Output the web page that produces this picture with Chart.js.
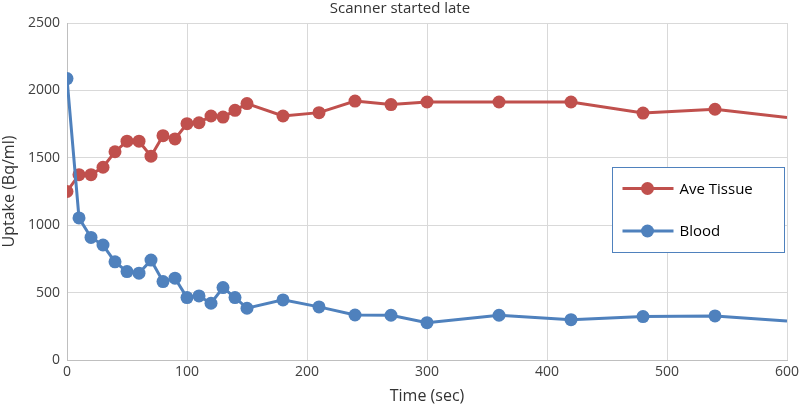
<!DOCTYPE html>
<html>
<head>
<meta charset="utf-8">
<script src="https://cdn.jsdelivr.net/npm/chart.js@4"></script>
<style>
    html, body { margin: 0; padding: 0; background: #fff; }
    #wrap { width: 800px; height: 406px; }
</style>
</head>
<body>
<div id="wrap"><canvas id="chart"></canvas></div>
<script>
// data
const times = [0, 10, 20, 30, 40, 50, 60, 70, 80, 90, 100, 110, 120, 130, 140, 150, 180, 210, 240, 270, 300, 360, 420, 480, 540, 600];
const tissue = [1250, 1375, 1375, 1430, 1545, 1623, 1623, 1512, 1664, 1640, 1753, 1760, 1810, 1802, 1852, 1902, 1810, 1835, 1921, 1895, 1914, 1914, 1914, 1832, 1860, 1798];
const blood = [2088, 1054, 909, 853, 728, 656, 644, 741, 582, 607, 463, 475, 421, 537, 463, 384, 446, 394, 334, 332, 277, 332, 299, 322, 327, 289];
const xTicks = [0, 100, 200, 300, 400, 500, 600];
const yTicks = [0, 500, 1000, 1500, 2000, 2500];
const seriesNames = ['Ave Tissue', 'Blood'];

const RED = '#C0504D';
const BLUE = '#4F81BD';
const FONT = '"Open Sans", "Noto Sans", sans-serif';

function toPoints(vals) {
    return times.map((t, i) => ({ x: t, y: vals[i] }));
}

// legend box drawn inside the plot, like the Excel one
const boxLegend = {
    id: 'boxLegend',
    afterDraw(chart) {
        const ctx = chart.ctx;
        const x = 612.5, y = 167.5, w = 172, h = 85;
        ctx.save();
        ctx.fillStyle = '#fff';
        ctx.fillRect(x, y, w, h);
        ctx.strokeStyle = BLUE;
        ctx.lineWidth = 1;
        ctx.strokeRect(x, y, w, h);
        const rows = [0, 1];
        rows.forEach((idx, i) => {
            const ds = chart.data.datasets[idx];
            const cy = y + 21 + i * 42.5;
            ctx.strokeStyle = ds.borderColor;
            ctx.lineWidth = 3;
            ctx.beginPath();
            ctx.moveTo(x + 10, cy);
            ctx.lineTo(x + 61, cy);
            ctx.stroke();
            ctx.fillStyle = ds.backgroundColor;
            ctx.beginPath();
            ctx.arc(x + 35, cy, 6.5, 0, Math.PI * 2);
            ctx.fill();
            ctx.fillStyle = '#000';
            ctx.font = '15px ' + FONT;
            ctx.textBaseline = 'middle';
            ctx.fillText(ds.label, x + 67, cy + 1);
        });
        ctx.restore();
    }
};

const lastNoMarker = (c) => (c.raw && c.raw.x >= 600 ? 0 : 6.5);

new Chart(document.getElementById('chart'), {
    type: 'scatter',
    data: {
        datasets: [{
            label: seriesNames[0],
            data: toPoints(tissue),
            showLine: true,
            borderColor: RED,
            backgroundColor: RED,
            borderWidth: 3,
            pointRadius: lastNoMarker,
            pointBorderWidth: 0,
            order: 1
        }, {
            label: seriesNames[1],
            data: toPoints(blood),
            showLine: true,
            borderColor: BLUE,
            backgroundColor: BLUE,
            borderWidth: 3,
            pointRadius: lastNoMarker,
            pointBorderWidth: 0,
            order: 0
        }]
    },
    options: {
        responsive: true,
        maintainAspectRatio: false,
        animation: false,
        layout: { padding: { left: 0, right: 0, top: 0, bottom: 0 } },
        plugins: {
            legend: { display: false },
            tooltip: { enabled: false },
            title: {
                display: true,
                text: 'Scanner started late',
                color: '#333',
                font: { family: FONT, size: 15, weight: 'normal', lineHeight: 1.2 },
                padding: { top: 0, bottom: 5 }
            }
        },
        scales: {
            x: {
                type: 'linear',
                min: 0,
                max: 600,
                afterBuildTicks: (axis) => { axis.ticks = xTicks.map(v => ({ value: v })); },
                afterFit: (axis) => { axis.height = 46; axis.paddingRight = 13; },
                grid: { color: '#d9d9d9', drawTicks: false },
                border: { color: '#bfbfbf' },
                ticks: { color: '#404040', padding: 4, maxRotation: 0, font: { family: FONT, size: 14 }, callback: (v) => String(v) },
                title: {
                    display: true,
                    text: 'Time (sec)',
                    color: '#333',
                    font: { family: FONT, size: 16 },
                    padding: { top: 0, bottom: 0 }
                }
            },
            y: {
                min: 0,
                max: 2500,
                afterBuildTicks: (axis) => { axis.ticks = yTicks.map(v => ({ value: v })); },
                afterFit: (axis) => { axis.width = 67; },
                grid: { color: '#d9d9d9', drawTicks: false },
                border: { color: '#bfbfbf' },
                ticks: { color: '#404040', padding: 7, font: { family: FONT, size: 14 }, callback: (v) => String(v) },
                title: {
                    display: true,
                    text: 'Uptake (Bq/ml)',
                    color: '#333',
                    font: { family: FONT, size: 16 },
                    padding: { top: 0, bottom: 0 }
                }
            }
        }
    },
    plugins: [boxLegend]
});
</script>
</body>
</html>
